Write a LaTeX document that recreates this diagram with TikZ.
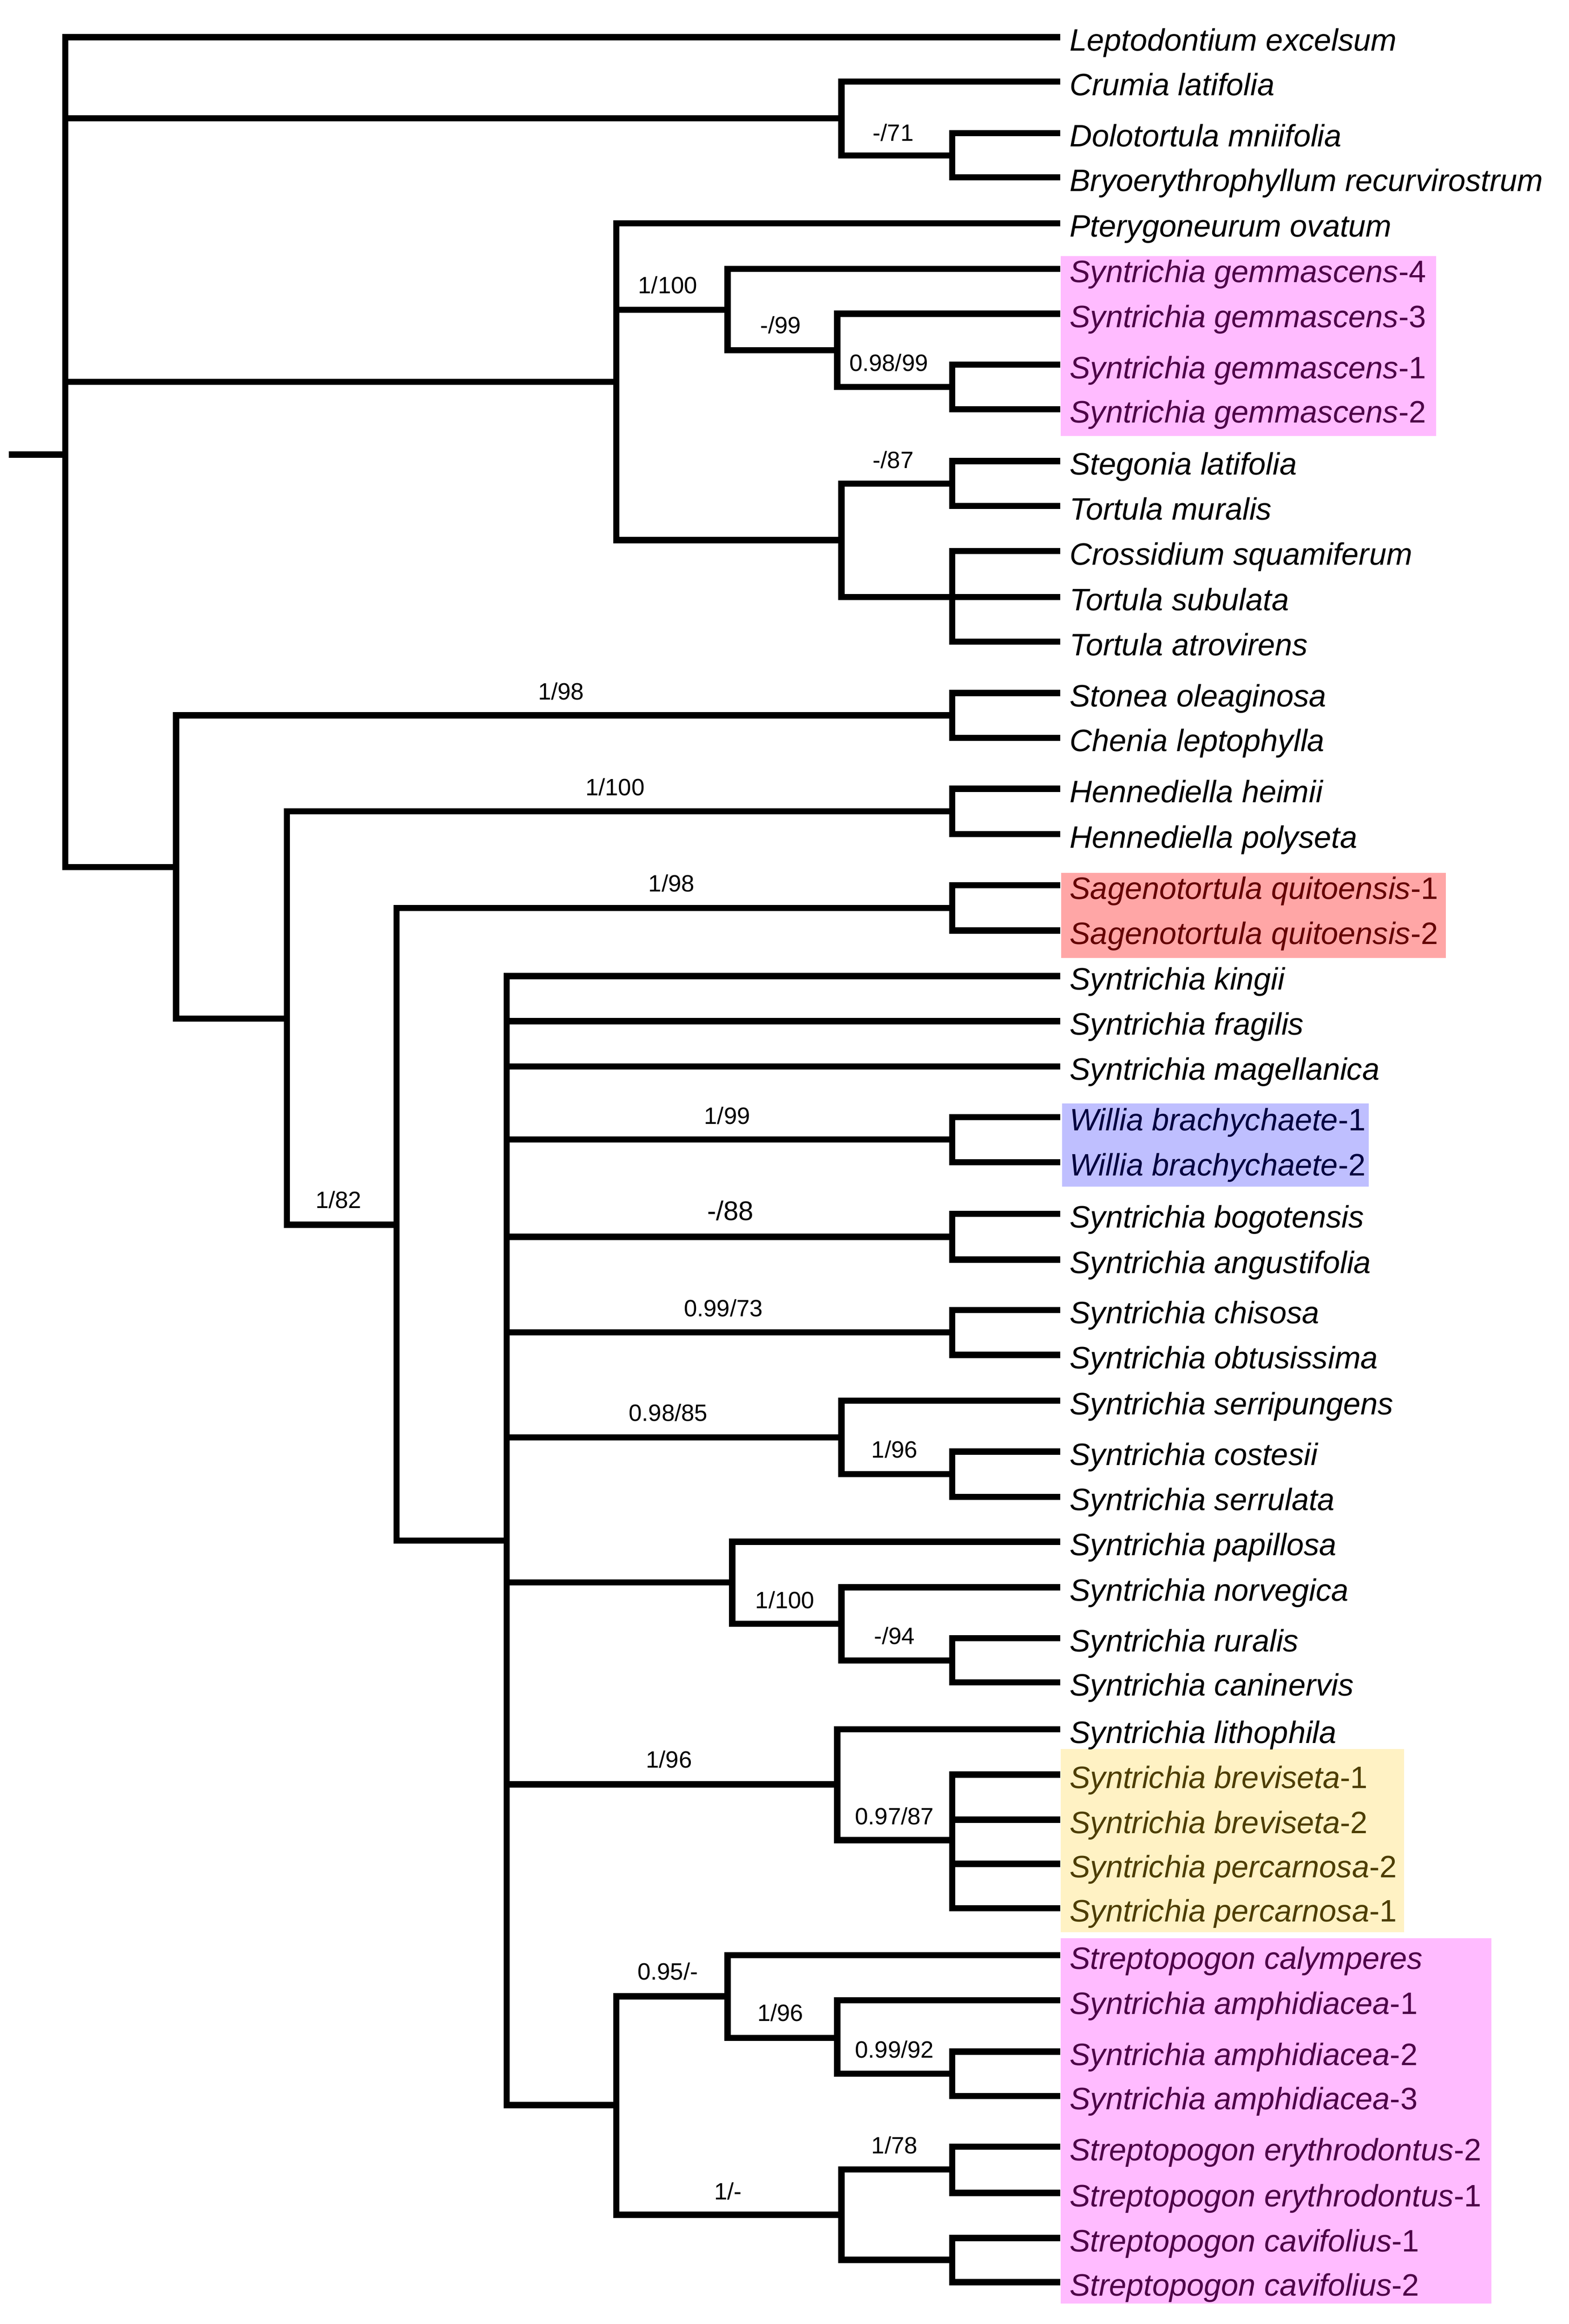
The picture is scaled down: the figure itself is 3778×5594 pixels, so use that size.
\documentclass[tikz,border=0pt]{standalone}
\usepackage{fontspec}
\setmainfont{Liberation Sans}
\definecolor{pinkbox}{RGB}{255,187,255}
\definecolor{pinktxt}{RGB}{77,0,72}
\definecolor{redbox}{RGB}{255,166,166}
\definecolor{redtxt}{RGB}{100,0,0}
\definecolor{bluebox}{RGB}{191,191,255}
\definecolor{bluetxt}{RGB}{0,0,64}
\definecolor{yelbox}{RGB}{255,242,196}
\definecolor{yeltxt}{RGB}{77,61,0}
\newcommand\mytaxon[1]{\textit{#1}}
\tikzset{
  br/.style={line width=1.5pt, line join=miter, line cap=butt},
  lab/.style={anchor=base west, inner sep=0pt, xshift=2.1pt, yshift=-3.3pt, font=\fontsize{7.46}{8.9}\selectfont},
  sup/.style={inner sep=0pt, font=\fontsize{5.68}{6.8}\selectfont},
  supbig/.style={inner sep=0pt, font=\fontsize{6.5}{7.8}\selectfont}
}
\begin{document}
\begin{tikzpicture}[x=0.1pt,y=-0.1pt]
\useasboundingbox (0,0) rectangle (3778,5594);
% background highlight boxes
\fill[pinkbox] (2554,616) rectangle (3458,1050);
\fill[redbox] (2555,2101) rectangle (3482,2306);
\fill[bluebox] (2557,2656) rectangle (3296,2856);
\fill[yelbox] (2554,4210) rectangle (3381,4651);
\fill[pinkbox] (2554,4665) rectangle (3591,5545);

% tips
\def\tx{2553}
\coordinate (tLep) at (\tx,89.5);
\coordinate (tCru) at (\tx,196.5);
\coordinate (tDol) at (\tx,320.5);
\coordinate (tBry) at (\tx,427);
\coordinate (tPte) at (\tx,537.6);
\coordinate (tG4) at (\tx,647);
\coordinate (tG3) at (\tx,755);
\coordinate (tG1) at (\tx,878);
\coordinate (tG2) at (\tx,985);
\coordinate (tSte) at (\tx,1110);
\coordinate (tMur) at (\tx,1218);
\coordinate (tCro) at (\tx,1326.6);
\coordinate (tSub) at (\tx,1437);
\coordinate (tAtr) at (\tx,1544.6);
\coordinate (tSto) at (\tx,1668);
\coordinate (tChe) at (\tx,1776);
\coordinate (tHei) at (\tx,1898.6);
\coordinate (tPol) at (\tx,2008);
\coordinate (tSa1) at (\tx,2130.8);
\coordinate (tSa2) at (\tx,2240);
\coordinate (tKin) at (\tx,2349.6);
\coordinate (tFra) at (\tx,2457.8);
\coordinate (tMag) at (\tx,2567);
\coordinate (tW1) at (\tx,2689);
\coordinate (tW2) at (\tx,2797.5);
\coordinate (tBog) at (\tx,2921.8);
\coordinate (tAng) at (\tx,3031.8);
\coordinate (tChi) at (\tx,3153);
\coordinate (tObt) at (\tx,3261.5);
\coordinate (tSrp) at (\tx,3371.5);
\coordinate (tCos) at (\tx,3494);
\coordinate (tSrl) at (\tx,3603);
\coordinate (tPap) at (\tx,3711);
\coordinate (tNor) at (\tx,3820.6);
\coordinate (tRur) at (\tx,3943);
\coordinate (tCan) at (\tx,4049.4);
\coordinate (tLit) at (\tx,4162.7);
\coordinate (tB1) at (\tx,4271.4);
\coordinate (tB2) at (\tx,4380.1);
\coordinate (tP2) at (\tx,4486.5);
\coordinate (tP1) at (\tx,4592.9);
\coordinate (tCal) at (\tx,4706.2);
\coordinate (tA1) at (\tx,4814.9);
\coordinate (tA2) at (\tx,4938.4);
\coordinate (tA3) at (\tx,5044.9);
\coordinate (tE2) at (\tx,5167.3);
\coordinate (tE1) at (\tx,5278.3);
\coordinate (tC1) at (\tx,5387);
\coordinate (tC2) at (\tx,5493.4);

% internal nodes
\coordinate (base) at (21,1094);
\coordinate (root) at (157.5,1094);
\coordinate (nCru) at (2026,285);
\coordinate (nDol) at (2293,374);
\coordinate (nPte) at (1484,919);
\coordinate (nG1) at (1752,746);
\coordinate (nG2) at (2016,843);
\coordinate (nG12) at (2293,931.5);
\coordinate (nSte) at (2026,1300);
\coordinate (nStm) at (2293,1164);
\coordinate (nCro) at (2293,1437);
\coordinate (nA) at (424,2087);
\coordinate (nSto) at (2293,1722);
\coordinate (nB) at (690.7,2452);
\coordinate (nHen) at (2293,1953);
\coordinate (nC) at (955,2948);
\coordinate (nSag) at (2293,2185.4);
\coordinate (nD) at (1220,3708);
\coordinate (nWil) at (2293,2743);
\coordinate (nBog) at (2293,2977);
\coordinate (nChi) at (2293,3207);
\coordinate (nSer) at (2026,3460);
\coordinate (nCos) at (2293,3548.5);
\coordinate (nPap) at (1763,3809);
\coordinate (nNor) at (2026,3908.7);
\coordinate (nRur) at (2293,3996.8);
\coordinate (nLit) at (2016,4295);
\coordinate (nBre) at (2293,4429.3);
\coordinate (nE) at (1484,5067);
\coordinate (nF) at (1752,4805);
\coordinate (nGa) at (2016,4905.3);
\coordinate (nH) at (2293,4991.6);
\coordinate (nI) at (2026,5331);
\coordinate (nEry) at (2293,5222.2);
\coordinate (nCav) at (2293,5439.6);

% branches
\draw[br] (base) -- (root);
\draw[br] (root) |- (tLep);
\draw[br] (root) |- (nCru);
\draw[br] (root) |- (nPte);
\draw[br] (root) |- (nA);
\draw[br] (nCru) |- (tCru);
\draw[br] (nCru) |- (nDol);
\draw[br] (nDol) |- (tDol);
\draw[br] (nDol) |- (tBry);
\draw[br] (nPte) |- (tPte);
\draw[br] (nPte) |- (nG1);
\draw[br] (nPte) |- (nSte);
\draw[br] (nG1) |- (tG4);
\draw[br] (nG1) |- (nG2);
\draw[br] (nG2) |- (tG3);
\draw[br] (nG2) |- (nG12);
\draw[br] (nG12) |- (tG1);
\draw[br] (nG12) |- (tG2);
\draw[br] (nSte) |- (nStm);
\draw[br] (nSte) |- (nCro);
\draw[br] (nStm) |- (tSte);
\draw[br] (nStm) |- (tMur);
\draw[br] (nCro) |- (tCro);
\draw[br] (nCro) |- (tSub);
\draw[br] (nCro) |- (tAtr);
\draw[br] (nA) |- (nSto);
\draw[br] (nA) |- (nB);
\draw[br] (nSto) |- (tSto);
\draw[br] (nSto) |- (tChe);
\draw[br] (nB) |- (nHen);
\draw[br] (nB) |- (nC);
\draw[br] (nHen) |- (tHei);
\draw[br] (nHen) |- (tPol);
\draw[br] (nC) |- (nSag);
\draw[br] (nC) |- (nD);
\draw[br] (nSag) |- (tSa1);
\draw[br] (nSag) |- (tSa2);
\draw[br] (nD) |- (tKin);
\draw[br] (nD) |- (tFra);
\draw[br] (nD) |- (tMag);
\draw[br] (nD) |- (nWil);
\draw[br] (nD) |- (nBog);
\draw[br] (nD) |- (nChi);
\draw[br] (nD) |- (nSer);
\draw[br] (nD) |- (nPap);
\draw[br] (nD) |- (nLit);
\draw[br] (nD) |- (nE);
\draw[br] (nWil) |- (tW1);
\draw[br] (nWil) |- (tW2);
\draw[br] (nBog) |- (tBog);
\draw[br] (nBog) |- (tAng);
\draw[br] (nChi) |- (tChi);
\draw[br] (nChi) |- (tObt);
\draw[br] (nSer) |- (tSrp);
\draw[br] (nSer) |- (nCos);
\draw[br] (nCos) |- (tCos);
\draw[br] (nCos) |- (tSrl);
\draw[br] (nPap) |- (tPap);
\draw[br] (nPap) |- (nNor);
\draw[br] (nNor) |- (tNor);
\draw[br] (nNor) |- (nRur);
\draw[br] (nRur) |- (tRur);
\draw[br] (nRur) |- (tCan);
\draw[br] (nLit) |- (tLit);
\draw[br] (nLit) |- (nBre);
\draw[br] (nBre) |- (tB1);
\draw[br] (nBre) |- (tB2);
\draw[br] (nBre) |- (tP2);
\draw[br] (nBre) |- (tP1);
\draw[br] (nE) |- (nF);
\draw[br] (nE) |- (nI);
\draw[br] (nF) |- (tCal);
\draw[br] (nF) |- (nGa);
\draw[br] (nGa) |- (tA1);
\draw[br] (nGa) |- (nH);
\draw[br] (nH) |- (tA2);
\draw[br] (nH) |- (tA3);
\draw[br] (nI) |- (nEry);
\draw[br] (nI) |- (nCav);
\draw[br] (nEry) |- (tE2);
\draw[br] (nEry) |- (tE1);
\draw[br] (nCav) |- (tC1);
\draw[br] (nCav) |- (tC2);

% taxon labels
\node[lab] (lLep) at (tLep) {\mytaxon{Leptodontium excelsum}};
\node[lab] (lCru) at (tCru) {\mytaxon{Crumia latifolia}};
\node[lab] (lDol) at (tDol) {\mytaxon{Dolotortula mniifolia}};
\node[lab] (lBry) at (tBry) {\mytaxon{Bryoerythrophyllum recurvirostrum}};
\node[lab] (lPte) at (tPte) {\mytaxon{Pterygoneurum ovatum}};
\node[lab,text=pinktxt] (lG4) at (tG4) {\mytaxon{Syntrichia gemmascens}-4};
\node[lab,text=pinktxt] (lG3) at (tG3) {\mytaxon{Syntrichia gemmascens}-3};
\node[lab,text=pinktxt] (lG1) at (tG1) {\mytaxon{Syntrichia gemmascens}-1};
\node[lab,text=pinktxt] (lG2) at (tG2) {\mytaxon{Syntrichia gemmascens}-2};
\node[lab] (lSte) at (tSte) {\mytaxon{Stegonia latifolia}};
\node[lab] (lMur) at (tMur) {\mytaxon{Tortula muralis}};
\node[lab] (lCro) at (tCro) {\mytaxon{Crossidium squamiferum}};
\node[lab] (lSub) at (tSub) {\mytaxon{Tortula subulata}};
\node[lab] (lAtr) at (tAtr) {\mytaxon{Tortula atrovirens}};
\node[lab] (lSto) at (tSto) {\mytaxon{Stonea oleaginosa}};
\node[lab] (lChe) at (tChe) {\mytaxon{Chenia leptophylla}};
\node[lab] (lHei) at (tHei) {\mytaxon{Hennediella heimii}};
\node[lab] (lPol) at (tPol) {\mytaxon{Hennediella polyseta}};
\node[lab,text=redtxt] (lSa1) at (tSa1) {\mytaxon{Sagenotortula quitoensis}-1};
\node[lab,text=redtxt] (lSa2) at (tSa2) {\mytaxon{Sagenotortula quitoensis}-2};
\node[lab] (lKin) at (tKin) {\mytaxon{Syntrichia kingii}};
\node[lab] (lFra) at (tFra) {\mytaxon{Syntrichia fragilis}};
\node[lab] (lMag) at (tMag) {\mytaxon{Syntrichia magellanica}};
\node[lab,text=bluetxt] (lW1) at (tW1) {\mytaxon{Willia brachychaete}-1};
\node[lab,text=bluetxt] (lW2) at (tW2) {\mytaxon{Willia brachychaete}-2};
\node[lab] (lBog) at (tBog) {\mytaxon{Syntrichia bogotensis}};
\node[lab] (lAng) at (tAng) {\mytaxon{Syntrichia angustifolia}};
\node[lab] (lChi) at (tChi) {\mytaxon{Syntrichia chisosa}};
\node[lab] (lObt) at (tObt) {\mytaxon{Syntrichia obtusissima}};
\node[lab] (lSrp) at (tSrp) {\mytaxon{Syntrichia serripungens}};
\node[lab] (lCos) at (tCos) {\mytaxon{Syntrichia costesii}};
\node[lab] (lSrl) at (tSrl) {\mytaxon{Syntrichia serrulata}};
\node[lab] (lPap) at (tPap) {\mytaxon{Syntrichia papillosa}};
\node[lab] (lNor) at (tNor) {\mytaxon{Syntrichia norvegica}};
\node[lab] (lRur) at (tRur) {\mytaxon{Syntrichia ruralis}};
\node[lab] (lCan) at (tCan) {\mytaxon{Syntrichia caninervis}};
\node[lab] (lLit) at (tLit) {\mytaxon{Syntrichia lithophila}};
\node[lab,text=yeltxt] (lB1) at (tB1) {\mytaxon{Syntrichia breviseta}-1};
\node[lab,text=yeltxt] (lB2) at (tB2) {\mytaxon{Syntrichia breviseta}-2};
\node[lab,text=yeltxt] (lP2) at (tP2) {\mytaxon{Syntrichia percarnosa}-2};
\node[lab,text=yeltxt] (lP1) at (tP1) {\mytaxon{Syntrichia percarnosa}-1};
\node[lab,text=pinktxt] (lCal) at (tCal) {\mytaxon{Streptopogon calymperes}};
\node[lab,text=pinktxt] (lA1) at (tA1) {\mytaxon{Syntrichia amphidiacea}-1};
\node[lab,text=pinktxt] (lA2) at (tA2) {\mytaxon{Syntrichia amphidiacea}-2};
\node[lab,text=pinktxt] (lA3) at (tA3) {\mytaxon{Syntrichia amphidiacea}-3};
\node[lab,text=pinktxt] (lE2) at (tE2) {\mytaxon{Streptopogon erythrodontus}-2};
\node[lab,text=pinktxt] (lE1) at (tE1) {\mytaxon{Streptopogon erythrodontus}-1};
\node[lab,text=pinktxt] (lC1) at (tC1) {\mytaxon{Streptopogon cavifolius}-1};
\node[lab,text=pinktxt] (lC2) at (tC2) {\mytaxon{Streptopogon cavifolius}-2};

% support values
\node[sup] (s1) at (2151,319) {-/71};
\node[sup] (s2) at (1608,686) {1/100};
\node[sup] (s3) at (1880,783) {-/99};
\node[sup] (s4) at (2140,873) {0.98/99};
\node[sup] (s5) at (2151,1107) {-/87};
\node[sup] (s6) at (1351,1664) {1/98};
\node[sup] (s7) at (1481,1894) {1/100};
\node[sup] (s8) at (1617,2126) {1/98};
\node[sup] (s9) at (815,2888) {1/82};
\node[sup] (s10) at (1751,2685) {1/99};
\node[supbig] (s11) at (1759,2914) {-/88};
\node[sup] (s12) at (1742,3149) {0.99/73};
\node[sup] (s13) at (1609,3400) {0.98/85};
\node[sup] (s14) at (2154,3489) {1/96};
\node[sup] (s15) at (1890,3851) {1/100};
\node[sup] (s16) at (2154,3937) {-/94};
\node[sup] (s17) at (1611,4235) {1/96};
\node[sup] (s18) at (2154,4372) {0.97/87};
\node[sup] (s19) at (1608,4745) {0.95/-};
\node[sup] (s20) at (1879,4845) {1/96};
\node[sup] (s21) at (2154,4933) {0.99/92};
\node[sup] (s22) at (2154,5164) {1/78};
\node[sup] (s23) at (1753,5274) {1/-};
\end{tikzpicture}
\end{document}
